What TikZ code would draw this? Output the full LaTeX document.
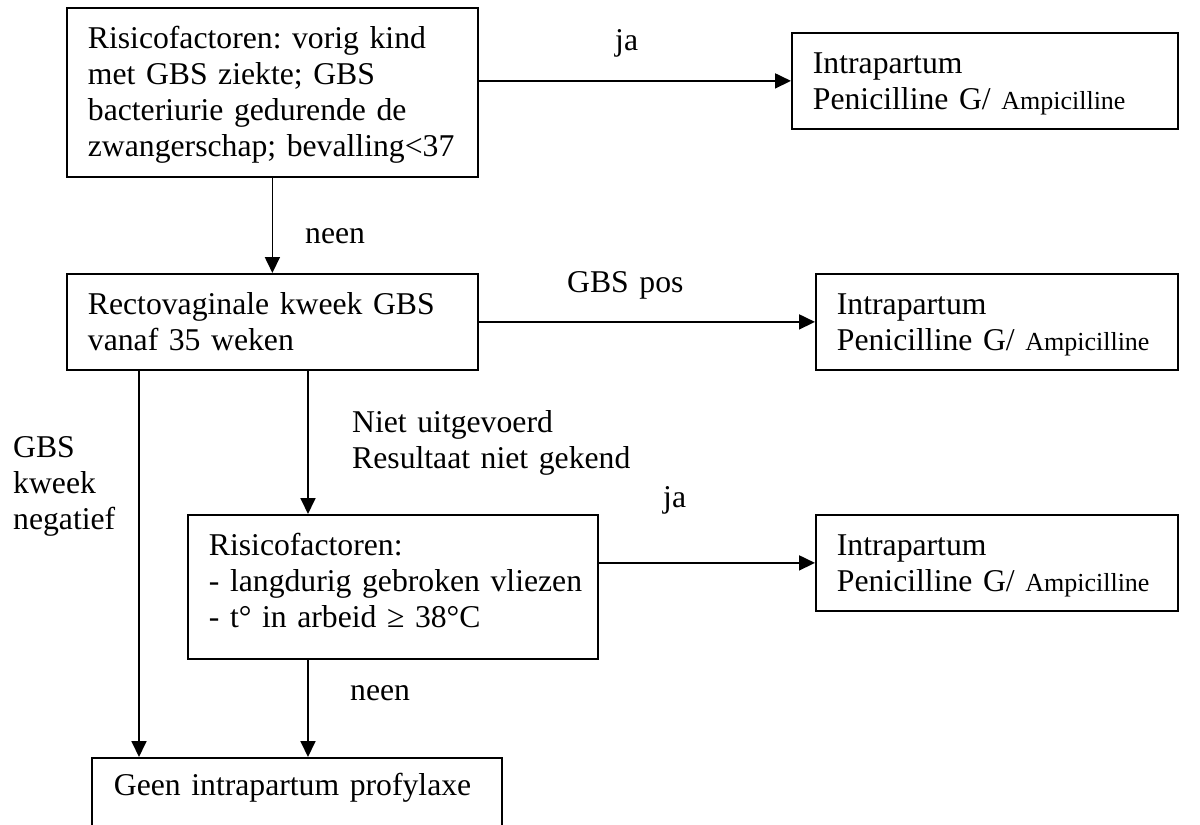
\documentclass[tikz,border=0pt]{standalone}
\usepackage{fontspec}
\setmainfont{Liberation Serif}
\usetikzlibrary{arrows.meta}
\begin{document}
\begin{tikzpicture}[x=1pt,y=-1pt,
  box/.style={draw,line width=1.8pt,anchor=north west,align=left,inner xsep=21pt,inner ysep=0pt,text height=41pt,font=\fontsize{31.7}{36}\selectfont\frenchspacing},
  conn/.style={line width=1.8pt,-{Triangle[length=16pt,width=15pt]}},
  lbl/.style={anchor=base west,inner sep=0pt,text width=330pt,align=left,font=\fontsize{31.7}{36}\selectfont\frenchspacing}]
\useasboundingbox (0,0) rectangle (1200,825);
\clip (0,0) rectangle (1200,825);
\newcommand{\ampi}{{\fontsize{26}{36}\selectfont Ampicilline}}
% boxes
\node[box,text width=369pt,text depth=128pt] (risk1) at (66,7) {\mbox{Risicofactoren: vorig kind}\\\mbox{met GBS ziekte; GBS}\\\mbox{bacteriurie gedurende de}\\\mbox{zwangerschap; bevalling<37}};
\node[box,text width=344pt,text depth=55pt] (rx1) at (791,32) {Intrapartum\\\mbox{Penicilline G/ \ampi}};
\node[box,text width=369pt,text depth=55pt] (kweek) at (66,273) {\mbox{Rectovaginale kweek GBS}\\vanaf 35 weken};
\node[box,text width=320pt,text depth=55pt] (rx2) at (815,273) {Intrapartum\\\mbox{Penicilline G/ \ampi}};
\node[box,text width=368pt,text depth=103pt] (risk2) at (187,514) {Risicofactoren:\\\mbox{- langdurig gebroken vliezen}\\\mbox{- t° in arbeid ≥ 38°C}};
\node[box,text width=320pt,text depth=55pt] (rx3) at (815,514) {Intrapartum\\\mbox{Penicilline G/ \ampi}};
\node[box,text width=366pt,text height=38pt,text depth=120pt,inner xsep=22pt] (geen) at (91,757) {\mbox{Geen intrapartum profylaxe}};
% helper coordinates for vertical lines
\coordinate (xa) at (139,0);
\coordinate (xb) at (308,0);
% connectors
\draw[conn] (risk1.south) -- (kweek.north);
\draw[conn] (risk1.east |- rx1.west) -- (rx1.west);
\draw[conn] (kweek.east) -- (rx2.west);
\draw[conn] (kweek.south -| xb) -- (risk2.north -| xb);
\draw[conn] (risk2.east |- rx3.west) -- (rx3.west);
\draw[conn] (risk2.south -| xb) -- (geen.north -| xb);
\draw[conn] (kweek.south -| xa) -- (geen.north -| xa);
% labels
\node[lbl] (ja1) at (615,50) {ja};
\node[lbl] (neen1) at (305,243) {neen};
\node[lbl] (gbspos) at (567,292) {GBS pos};
\node[lbl] (niet) at (352,432) {Niet uitgevoerd\\Resultaat niet gekend};
\node[lbl] (neg) at (13,457) {GBS\\kweek\\negatief};
\node[lbl] (ja2) at (663,507) {ja};
\node[lbl] (neen2) at (350,700) {neen};
\end{tikzpicture}
\end{document}
